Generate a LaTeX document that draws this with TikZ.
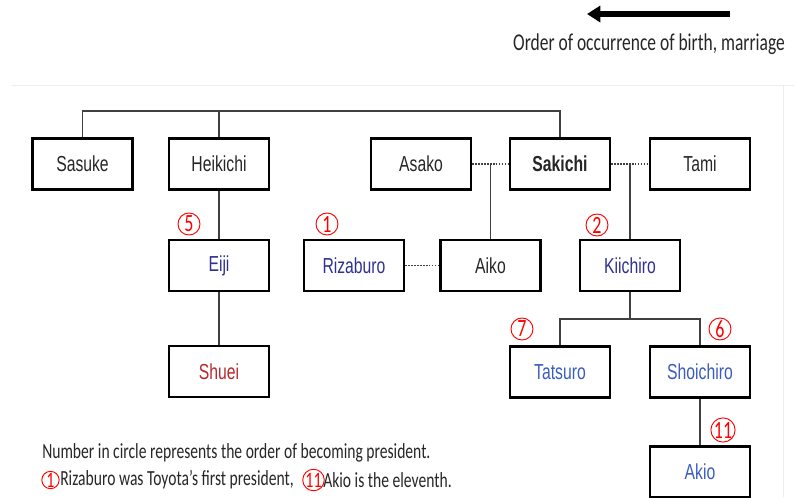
\documentclass[tikz,border=0pt]{standalone}
\usepackage{fontspec}
\setmainfont{Liberation Sans}
\newfontfamily\calfont{Carlito}
\usepackage{graphicx}
\usetikzlibrary{arrows.meta}
\definecolor{navyname}{HTML}{2E3192}
\definecolor{bluename}{HTML}{3A5BC0}
\definecolor{redname}{HTML}{B8282E}
\definecolor{linkgray}{HTML}{404040}
\newcommand{\tallt}[1]{\scalebox{1}[1.38]{#1}}
\tikzset{
  person/.style={draw=black, line width=2.1pt, minimum width=75pt, minimum height=38.25pt,
    inner sep=0pt, text=black!85, font=\fontsize{11.8}{12}\selectfont},
  link/.style={draw=linkgray, line width=1.1pt},
  marr/.style={draw=linkgray, line width=1.2pt, densely dotted},
  circnum/.style={circle, draw=red, line width=0.7pt, minimum size=16.5pt, inner sep=0pt,
    text=red, font=\calfont\fontsize{13.5}{12}\selectfont},
  smallcirc/.style={circnum, minimum size=13pt, font=\calfont\fontsize{12}{12}\selectfont},
  note/.style={anchor=west, inner sep=0pt, text=black!85, font=\calfont\fontsize{11.7}{12}\selectfont},
}
\begin{document}
\begin{tikzpicture}[x=0.75pt,y=-0.75pt]
\useasboundingbox (0,0) rectangle (795,497);
% faint page edges
\draw[black!7, line width=0.6pt] (12,85) -- (795,85);
\draw[black!7, line width=0.6pt] (783,85) -- (783,497);
% direction arrow
\coordinate (aR) at (730,14);
\coordinate (aL) at (587,14);
\draw[line width=3.8pt, -{Triangle[length=10pt,width=12pt]}] (aR) -- (aL);
\node[inner sep=0pt, text=black!85, font=\calfont\fontsize{13.1}{12}\selectfont] (order) at (649,44) {\tallt{Order of occurrence of birth, marriage}};
% people
\node[person] (Sasuke) at (82.5,164) {\tallt{Sasuke}};
\node[person] (Heikichi) at (219,164) {\tallt{Heikichi}};
\node[person] (Asako) at (421,164) {\tallt{Asako}};
\node[person] (Sakichi) at (560,164) {\tallt{\bfseries Sakichi}};
\node[person] (Tami) at (700,164) {\tallt{Tami}};
\node[person, text=navyname] (Eiji) at (219,265.5) {\tallt{Eiji}};
\node[person, text=navyname] (Rizaburo) at (354,265.5) {\tallt{Rizaburo}};
\node[person] (Aiko) at (490.5,265.5) {\tallt{Aiko}};
\node[person, text=navyname] (Kiichiro) at (630,265.5) {\tallt{Kiichiro}};
\node[person, text=redname] (Shuei) at (219,371.5) {\tallt{Shuei}};
\node[person, text=bluename] (Tatsuro) at (560,372) {\tallt{Tatsuro}};
\node[person, text=bluename] (Shoichiro) at (700,372) {\tallt{Shoichiro}};
\node[person, text=bluename] (Akio) at (700,472) {\tallt{Akio}};
% connectors
\coordinate (bar) at (0,111);
\coordinate (br) at (0,319);
\draw[link] (Sasuke.north) -- (Sasuke.north |- bar) -- (Sakichi.north |- bar) -- (Sakichi.north);
\draw[link] (Heikichi.north) -- (Heikichi.north |- bar);
\draw[marr] (Asako.east) -- (Sakichi.west);
\draw[link] (Aiko.north) -- (Aiko.north |- Asako.east);
\draw[marr] (Sakichi.east) -- (Tami.west);
\draw[link] (Kiichiro.north) -- (Kiichiro.north |- Tami.west);
\draw[link] (Heikichi.south) -- (Eiji.north);
\draw[link] (Eiji.south) -- (Shuei.north);
\draw[marr] (Rizaburo.east) -- (Aiko.west);
\draw[link] (Kiichiro.south) -- (Kiichiro.south |- br);
\draw[link] (Tatsuro.north) -- (Tatsuro.north |- br) -- (Shoichiro.north |- br) -- (Shoichiro.north);
\draw[link] (Shoichiro.south) -- (Akio.north);
% circled numbers
\node[circnum] (c5) at (189,224) {\tallt{5}};
\node[circnum] (c1) at (327,224) {\tallt{1}};
\node[circnum] (c2) at (597,225) {\tallt{2}};
\node[circnum] (c7) at (522,329) {\tallt{7}};
\node[circnum] (c6) at (720,329) {\tallt{6}};
\node[circnum] (c11) at (723,430) {\tallt{11}};
% notes
\node[note] (n1) at (42,453) {\tallt{Number in circle represents the order of becoming president.}};
\node[smallcirc] (nc1) at (50.5,480) {\tallt{1}};
\node[note] (n2) at (60,480) {\tallt{Rizaburo was Toyota’s first president,}};
\node[smallcirc] (nc11) at (313.5,480) {\tallt{11}};
\node[note] (n3) at (323,480) {\tallt{Akio is the eleventh.}};
\end{tikzpicture}
\end{document}
